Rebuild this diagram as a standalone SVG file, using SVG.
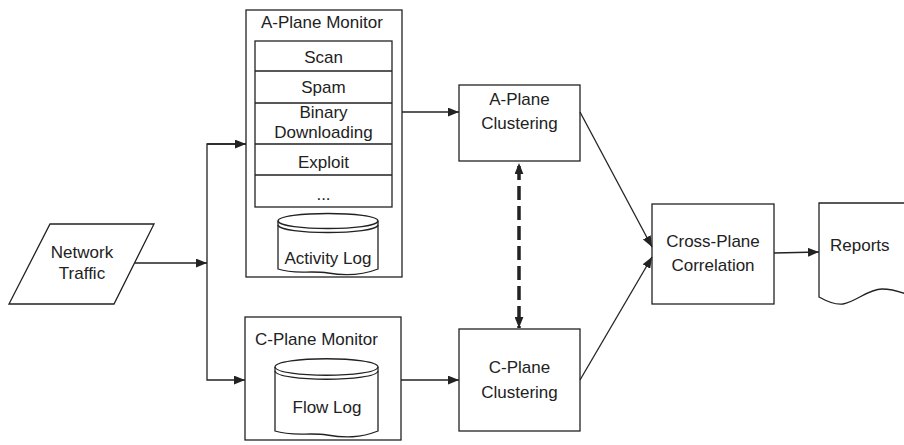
<svg xmlns="http://www.w3.org/2000/svg" width="904" height="445" viewBox="0 0 904 445">
<defs>
<marker id="ah" viewBox="0 0 10 8" refX="10" refY="4" markerWidth="11" markerHeight="9" markerUnits="userSpaceOnUse" orient="auto">
<path d="M0,0 L10,4 L0,8 Z" fill="#222"/>
</marker>
<marker id="ahb" viewBox="0 0 10 8" refX="10" refY="4" markerWidth="11" markerHeight="9" markerUnits="userSpaceOnUse" orient="auto-start-reverse">
<path d="M0,0 L10,4 L0,8 Z" fill="#222"/>
</marker>
<style>
.box{fill:#fff;stroke:#222;stroke-width:1.3}
.ln{fill:none;stroke:#222;stroke-width:1.3}
.t{font-family:"Liberation Sans",Arial,sans-serif;font-size:17px;fill:#222;text-anchor:middle}
.tl{font-family:"Liberation Sans",Arial,sans-serif;font-size:17px;fill:#222}
</style>
</defs>
<rect width="904" height="445" fill="#fff"/>

<g id="network-traffic">
<path class="box" d="M50,224 L154,224 L114,304 L9,304 Z"/>
<text class="t" x="82" y="258">Network</text>
<text class="t" x="82" y="279">Traffic</text>
</g>

<g id="a-plane-monitor">
<rect class="box" x="246" y="10" width="156" height="267"/>
<text class="tl" x="261" y="28">A-Plane Monitor</text>
<rect class="box" x="255" y="41" width="137" height="166"/>
<path class="ln" d="M255,71 H392 M255,103 H392 M255,144 H392 M255,175 H392"/>
<text class="t" x="323.5" y="63">Scan</text>
<text class="t" x="323.5" y="93">Spam</text>
<text class="t" x="323.5" y="118">Binary</text>
<text class="t" x="323.5" y="138">Downloading</text>
<text class="t" x="323.5" y="168">Exploit</text>
<text class="t" x="323.5" y="200">...</text>
<g id="activity-log">
<path class="box" d="M278,221 C278,211 378,211 378,221 L378,269 C360,276 345,276 328,273 C310,270 295,275 278,269 Z"/>
<path class="ln" d="M278,221 C280,231 376,231 378,221 M278,225 C280,235 376,235 378,225"/>
<text class="t" x="328" y="264">Activity Log</text>
</g>
</g>

<g id="c-plane-monitor">
<rect class="box" x="245" y="317" width="156" height="123"/>
<text class="tl" x="255" y="345">C-Plane Monitor</text>
<g id="flow-log">
<path class="box" d="M275,367 C275,356 378,356 378,367 L378,431 C360,438 345,438 327,435 C310,432 293,437 275,431 Z"/>
<path class="ln" d="M275,367 C277,378 376,378 378,367 M275,371 C277,382 376,382 378,371"/>
<text class="t" x="327" y="413">Flow Log</text>
</g>
</g>

<g id="a-plane-clustering">
<rect class="box" x="459" y="85" width="121" height="76"/>
<text class="t" x="519.5" y="105">A-Plane</text>
<text class="t" x="519.5" y="129">Clustering</text>
</g>

<g id="c-plane-clustering">
<rect class="box" x="459" y="329" width="121" height="102"/>
<text class="t" x="519.5" y="373">C-Plane</text>
<text class="t" x="519.5" y="398">Clustering</text>
</g>

<g id="cross-plane-correlation">
<rect class="box" x="652" y="204" width="122" height="100"/>
<text class="t" x="713" y="247">Cross-Plane</text>
<text class="t" x="713" y="271">Correlation</text>
</g>

<g id="reports">
<path class="box" d="M906,203 H819 V297 C828,302 836,305 843,304 C856,302 868,289 882,289 C892,289 898,291 906,294"/>
<text class="tl" x="830" y="251">Reports</text>
</g>

<g id="connectors">
<path class="ln" d="M135,263 H207" marker-end="url(#ah)"/>
<path class="ln" d="M246,144 H207 V380 H245" marker-end="url(#ah)"/>
<path class="ln" d="M207,144 H246" marker-end="url(#ah)"/>
<path class="ln" d="M402,112 H459" marker-end="url(#ah)"/>
<path class="ln" d="M401,380 H459" marker-end="url(#ah)"/>
<path class="ln" d="M580,112 L652,247" marker-end="url(#ah)"/>
<path class="ln" d="M580,380 L652,257" marker-end="url(#ah)"/>
<path class="ln" d="M774,253 L819,252" marker-end="url(#ah)"/>
<path d="M519,163 V328" fill="none" stroke="#222" stroke-width="3.5" stroke-dasharray="14,6" stroke-dashoffset="-3" marker-start="url(#ahb)" marker-end="url(#ahb)"/>
</g>
</svg>
